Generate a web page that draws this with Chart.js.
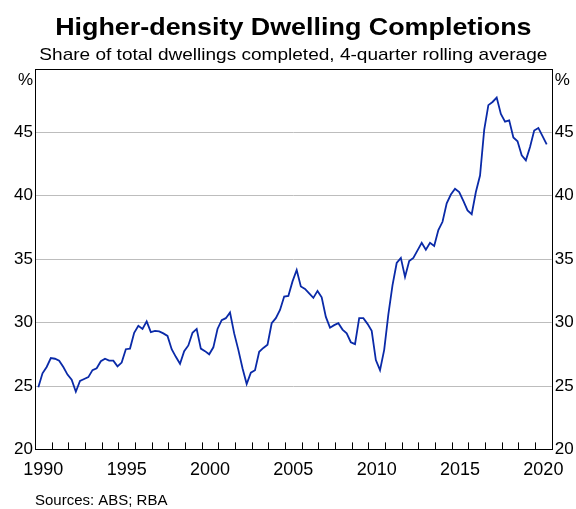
<!DOCTYPE html>
<html>
<head>
<meta charset="utf-8">
<script src="https://cdn.jsdelivr.net/npm/chart.js@4.4.1/dist/chart.umd.min.js"></script>
<style>
html,body{margin:0;padding:0;background:#fff;}
#wrap{width:576px;height:509px;position:relative;}
</style>
</head>
<body>
<div id="wrap"><canvas id="c"></canvas></div>
<script>
// ---- data ----
const titleText = "Higher-density Dwelling Completions";
const subtitleText = "Share of total dwellings completed, 4-quarter rolling average";
const sourceText = "Sources: ABS; RBA";
const firstYear = 1990;      // series starts 1990 Q1, quarterly
const xMin = 1990, xMax = 2021;
const xLabelYears = [1990, 1995, 2000, 2005, 2010, 2015, 2020];
const yTicks = [20, 25, 30, 35, 40, 45, 50];
const shareValues = [
  24.9, 26.0, 26.5, 27.2, 27.15, 27.0, 26.5, 25.9, 25.5, 24.55, 25.4, 25.55, 25.7, 26.25, 26.4, 26.95,
  27.15, 27.0, 27.0, 26.55, 26.85, 27.9, 27.95, 29.2, 29.75, 29.5, 30.1, 29.25, 29.35, 29.3, 29.15, 28.95,
  27.9, 27.3, 26.75, 27.75, 28.2, 29.2, 29.5, 27.95, 27.75, 27.5, 28.05, 29.5, 30.2, 30.35, 30.8, 29.15,
  27.85, 26.4, 25.15, 26.05, 26.25, 27.7, 28.0, 28.25, 29.95, 30.35, 31.0, 32.05, 32.1, 33.25, 34.15, 32.85,
  32.65, 32.3, 31.95, 32.5, 32.0, 30.45, 29.6, 29.8, 29.95, 29.45, 29.15, 28.45, 28.3, 30.35, 30.35, 29.9,
  29.35, 27.05, 26.25, 27.85, 30.65, 32.95, 34.7, 35.1, 33.6, 34.85, 35.1, 35.7, 36.3, 35.75, 36.3, 36.05,
  37.3, 37.95, 39.4, 40.1, 40.55, 40.3, 39.6, 38.85, 38.55, 40.3, 41.6, 45.2, 47.15, 47.4, 47.75, 46.45,
  45.85, 45.95, 44.6, 44.3, 43.2, 42.8, 43.85, 45.15, 45.35, 44.7, 44.05
];

const points = shareValues.map((v, i) => ({ x: firstYear + 0.2 + i * 0.25, y: v }));
const FONT = "'Liberation Sans', Arial, Helvetica, sans-serif";

function stretchedText(ctx, text, x, y, sx, align) {
  ctx.save();
  ctx.translate(x, y);
  ctx.scale(sx, 1);
  ctx.textAlign = align;
  ctx.fillText(text, 0, 0);
  ctx.restore();
}

const decor = {
  id: 'decor',
  afterDraw(chart) {
    const ctx = chart.ctx;
    const a = chart.chartArea;
    const xs = chart.scales.x;
    ctx.save();
    // frame
    ctx.strokeStyle = '#000';
    ctx.lineWidth = 1;
    ctx.strokeRect(Math.round(a.left) + 0.5, Math.round(a.top) + 0.5,
                   Math.round(a.right - a.left), Math.round(a.bottom - a.top));
    // yearly tick marks inside the plot, rising from the bottom axis
    ctx.beginPath();
    for (let yr = xMin + 1; yr < xMax; yr++) {
      const px = Math.round(xs.getPixelForValue(yr)) + 0.5;
      ctx.moveTo(px, a.bottom);
      ctx.lineTo(px, a.bottom - 7);
    }
    ctx.stroke();
    // % unit labels
    ctx.fillStyle = '#000';
    ctx.font = '17px ' + FONT;
    ctx.textBaseline = 'middle';
    ctx.textAlign = 'right';
    ctx.fillText('%', a.left - 2, a.top + 11);
    ctx.textAlign = 'left';
    ctx.fillText('%', a.right + 3, a.top + 11);
    // title & subtitle, centred over the plot area
    const cx = (a.left + a.right) / 2;
    ctx.textBaseline = 'alphabetic';
    ctx.font = 'bold 24px ' + FONT;
    stretchedText(ctx, titleText, cx, 35, 1.12, 'center');
    ctx.font = '17px ' + FONT;
    stretchedText(ctx, subtitleText, cx, 60, 1.12, 'center');
    // sources
    ctx.font = '14px ' + FONT;
    stretchedText(ctx, sourceText, 35, 505, 1.07, 'left');
    ctx.restore();
  }
};

new Chart(document.getElementById('c'), {
  type: 'line',
  data: {
    datasets: [{
      data: points,
      borderColor: '#0a2aa8',
      borderWidth: 1.8,
      pointRadius: 0,
      tension: 0,
      fill: false
    }]
  },
  options: {
    responsive: true,
    maintainAspectRatio: false,
    animation: false,
    layout: { padding: { top: 69, left: 0, right: 0, bottom: 0 } },
    plugins: { legend: { display: false }, tooltip: { enabled: false }, title: { display: false } },
    scales: {
      x: {
        type: 'linear',
        min: xMin, max: xMax,
        grid: { display: false, drawTicks: false },
        border: { display: false },
        afterBuildTicks: (s) => { s.ticks = xLabelYears.map(y => ({ value: y + 0.5 })); },
        ticks: {
          autoSkip: false, maxRotation: 0, padding: 10, color: '#000',
          font: { family: FONT, size: 18 },
          callback: (v) => String(Math.round(v - 0.5))
        },
        afterFit: (s) => { s.height = 59.6; }
      },
      y: {
        position: 'left',
        min: 20, max: 50,
        afterBuildTicks: (s) => { s.ticks = yTicks.map(v => ({ value: v })); },
        grid: { color: '#bdbdbd', lineWidth: 1, drawTicks: false },
        border: { display: false },
        ticks: {
          padding: 2, color: '#000', font: { family: FONT, size: 17 },
          callback: (v) => (v === 50 ? '' : String(v))
        },
        afterFit: (s) => { s.width = 35; }
      },
      y2: {
        position: 'right',
        min: 20, max: 50,
        afterBuildTicks: (s) => { s.ticks = yTicks.map(v => ({ value: v })); },
        grid: { display: false, drawTicks: false },
        border: { display: false },
        ticks: {
          padding: 3, color: '#000', font: { family: FONT, size: 17 },
          callback: (v) => (v === 50 ? '' : String(v))
        },
        afterFit: (s) => { s.width = 24.3; }
      }
    }
  },
  plugins: [decor]
});
</script>
</body>
</html>
